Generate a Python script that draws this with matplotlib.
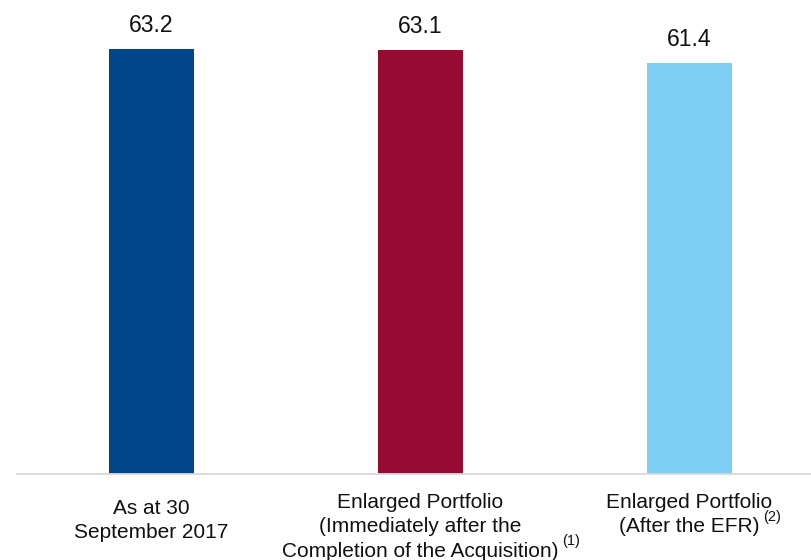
import matplotlib
matplotlib.use("Agg")
import matplotlib.pyplot as plt

# Portfolio values for the three scenarios
categories = [
    ["As at 30", "September 2017"],
    ["Enlarged Portfolio", "(Immediately after the", "Completion of the Acquisition)"],
    ["Enlarged Portfolio", "(After the EFR)"],
]
notes = ["", "(1)", "(2)"]
values = [63.2, 63.1, 61.4]
colors = ["#02468A", "#970B32", "#7DCEF3"]

plt.rcParams["font.family"] = ["Liberation Sans", "DejaVu Sans"]

fig = plt.figure(figsize=(8.11, 5.60), dpi=100)
ax = fig.add_axes([17 / 811, 86 / 560, 807 / 811, 471.4 / 560])

x = list(range(len(values)))
ax.bar(x, values, width=0.316, color=colors)
ax.set_xlim(-0.5, 2.5)
ax.set_ylim(10, 69)

# value labels above each bar
for i, v in enumerate(values):
    ax.annotate(f"{v:.1f}", xy=(i, v), xytext=(0, 12.2), textcoords="offset points",
                ha="center", va="baseline", fontsize=16.5, color="#111111")

# category labels, one line at a time, with footnote markers
first_drop = [40, 34, 34]  # px below the axis line to the first baseline
line_step = 24.5
for i, lines in enumerate(categories):
    last = None
    for j, line in enumerate(lines):
        dy = -(first_drop[i] + j * line_step) * 0.72
        last = ax.annotate(line, xy=(i, 0), xycoords=("data", "axes fraction"),
                           xytext=(0, dy), textcoords="offset points",
                           ha="center", va="baseline", fontsize=15, color="#111111",
                           annotation_clip=False)
    if notes[i]:
        ax.annotate(notes[i], xy=(1, 1), xycoords=last, xytext=(2.5, 5.5),
                    textcoords="offset points", ha="left", va="top",
                    fontsize=10.5, color="#111111")

for side in ["top", "right", "left"]:
    ax.spines[side].set_visible(False)
ax.spines["bottom"].set_color("#D9D9D9")
ax.spines["bottom"].set_linewidth(1.3)
ax.set_xticks([])
ax.set_yticks([])

fig.savefig("out.png", dpi=100)
